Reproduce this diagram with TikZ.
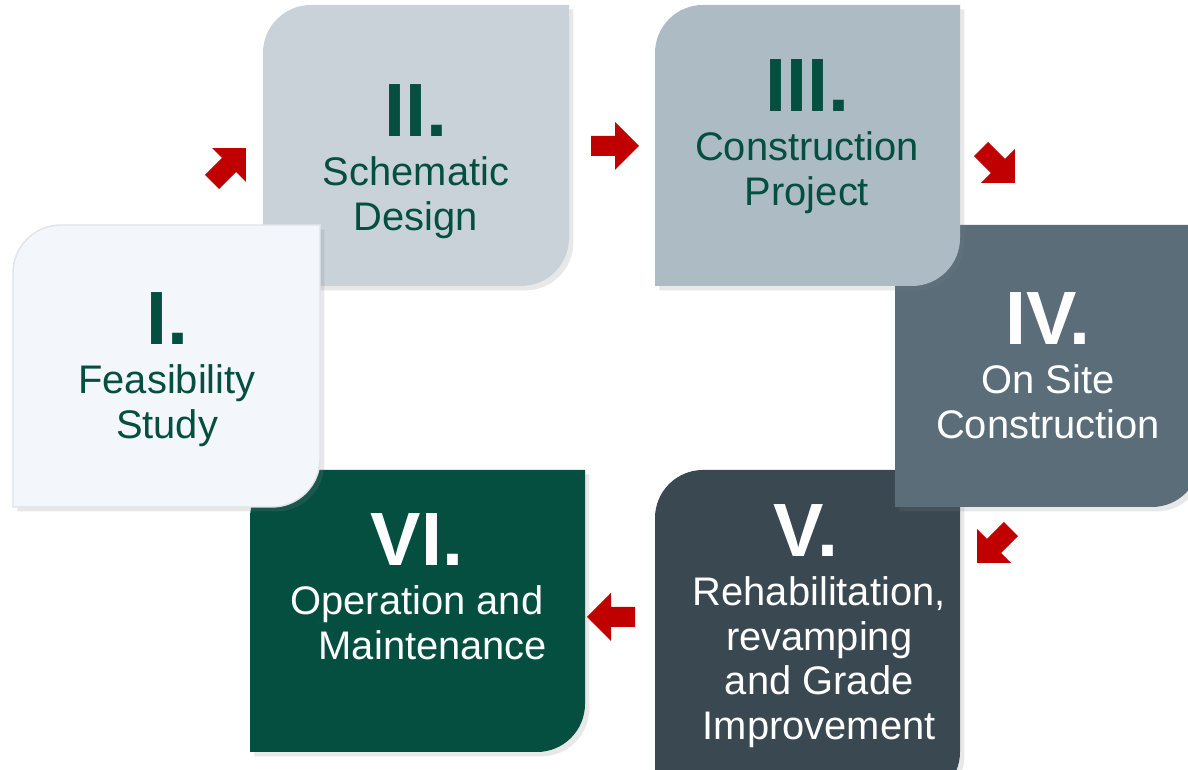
\documentclass[tikz,border=0pt]{standalone}
\usepackage{fontspec}
\setmainfont{Liberation Sans}
\usetikzlibrary{positioning,shadows}

\definecolor{stageone}{HTML}{F3F6FA}
\definecolor{stageoneline}{HTML}{DEE4EA}
\definecolor{stagetwo}{HTML}{C8D2D8}
\definecolor{stagethree}{HTML}{ADBCC4}
\definecolor{stagefour}{HTML}{5A6D79}
\definecolor{stagefive}{HTML}{3A4851}
\definecolor{stagesix}{HTML}{054F41}
\definecolor{stagegreen}{HTML}{054F41}
\definecolor{arrowred}{HTML}{C00000}

% box with rounded top left and bottom right corners: x1, x2, top, bottom, colour
\newcommand{\stageshape}[5]{%
  \fill[stage, fill=#5] (#1,#4) -- (#1,#3-48) arc[start angle=180, end angle=90, radius=48]
    -- (#2,#3) -- (#2,#4+48) arc[start angle=0, end angle=-90, radius=48] -- cycle;}

\begin{document}
\begin{tikzpicture}[x=0.02cm, y=0.02cm,
    stage/.style={drop shadow={opacity=0.18, shadow xshift=2.5pt, shadow yshift=-2.5pt}},
    stagenum/.style={font=\fontsize{43}{43}\selectfont\bfseries, anchor=base, inner sep=0pt},
    stagetext/.style={font=\fontsize{22.7}{25.5}\selectfont, align=center, inner sep=0pt},
    pics/redarrow/.style={code={
      \fill[arrowred] (24,0) -- (0,24) -- (0,10) -- (-24,10) -- (-24,-10) -- (0,-10) -- (0,-24) -- cycle;}}]

  \clip (0,0) rectangle (1188,770);
  \fill[white] (0,0) rectangle (1188,770);

  % boxes, back to front
  \stageshape{263}{569}{765}{484}{stagetwo}
  \stageshape{250}{585}{300}{18}{stagesix}
  \stageshape{13}{320}{545}{263}{stageone}
  \draw[stageoneline, line width=0.8pt] (13,263) -- (13,497) arc[start angle=180, end angle=90, radius=48]
    -- (320,545) -- (320,311) arc[start angle=0, end angle=-90, radius=48] -- cycle;
  \stageshape{655}{960}{300}{-30}{stagefive}
  \stageshape{895}{1200}{545}{263}{stagefour}
  \stageshape{655}{960}{765}{484}{stagethree}

  % arrows
  \pic[rotate=45] at (229,605) {redarrow};
  \pic at (615,624) {redarrow};
  \pic[rotate=-45] at (998,604) {redarrow};
  \pic[rotate=-135] at (994,224) {redarrow};
  \pic[rotate=180] at (611,153) {redarrow};

  % numbers
  \node[stagenum, text=stagegreen] (num1) at (167,425) {I.};
  \node[stagenum, text=stagegreen] (num2) at (416,633) {II.};
  \node[stagenum, text=stagegreen] (num3) at (807,658) {III.};
  \node[stagenum, text=white] (num4) at (1048,425) {IV.};
  \node[stagenum, text=white] (num5) at (806,213) {V.};
  \node[stagenum, text=white] (num6) at (417,204) {VI.};

  % texts
  \node[stagetext, text=stagegreen, below=10.8pt of num1.base] (txt1) {Feasibility\\Study};
  \node[stagetext, text=stagegreen, below=10.8pt of num2.base] (txt2) {Schematic\\Design};
  \node[stagetext, text=stagegreen, below=10.8pt of num3.base] (txt3) {Construction\\Project};
  \node[stagetext, text=white, below=10.8pt of num4.base] (txt4) {On Site\\Construction};
  \node[stagetext, text=white, below=10.8pt of num5.base, xshift=7.5pt] (txt5)
    {Rehabilitation,\\revamping\\and Grade\\Improvement};
  \node[stagetext, text=white, below=10.8pt of num6.base] (txt6) {Operation and\\\hspace*{0.8em}Maintenance};
\end{tikzpicture}
\end{document}
